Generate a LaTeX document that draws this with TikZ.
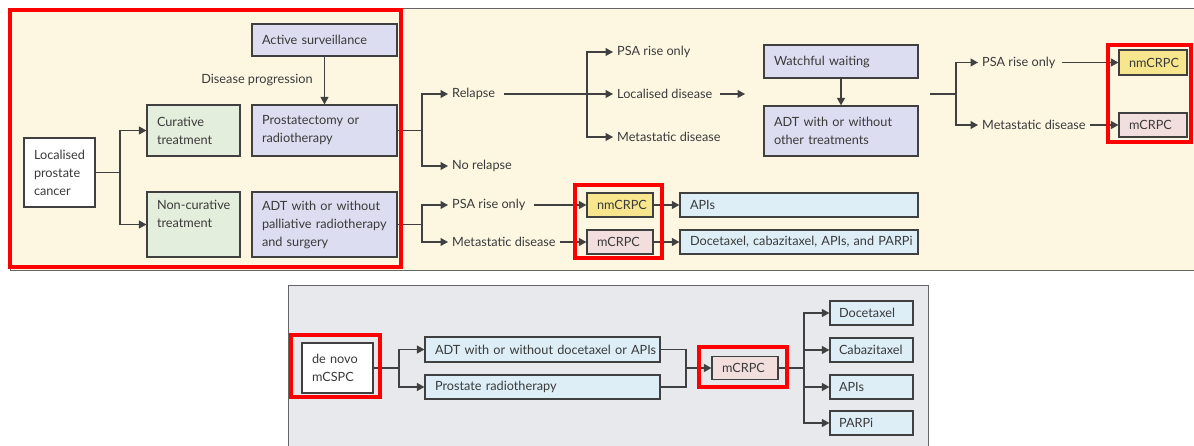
\documentclass[tikz,border=0pt]{standalone}
\usepackage{fontspec}
\setmainfont{Lato}
\usetikzlibrary{arrows.meta}
\definecolor{cream}{HTML}{FDF7E2}
\definecolor{panelgray}{HTML}{E7E9ED}
\definecolor{grn}{HTML}{E4EEDD}
\definecolor{lav}{HTML}{DCDDF0}
\definecolor{lblue}{HTML}{DDEEF7}
\definecolor{yel}{HTML}{F7E68E}
\definecolor{pnk}{HTML}{F3DEDE}
\definecolor{lc}{HTML}{404040}
\definecolor{tc}{HTML}{3A3A3A}
\tikzset{
  bx/.style={draw=lc, line width=1.2pt, inner xsep=0pt, inner ysep=0pt, align=left, text=tc,
    font=\fontsize{12.7}{18}\selectfont, anchor=center},
  lbl/.style={inner xsep=4pt, inner ysep=1pt, text=tc, font=\fontsize{12.7}{18}\selectfont, anchor=west},
  arr/.style={draw=lc, line width=1.2pt, -{Triangle[length=7.5pt,width=8pt]}},
  ln/.style={draw=lc, line width=1.2pt},
  hl/.style={draw=red, line width=4pt},
}
\begin{document}
\begin{tikzpicture}[x=1pt,y=-1pt]
\useasboundingbox (0,0) rectangle (1194,446);
% panels
\draw[fill=cream, draw=gray!80!black, line width=1pt] (10,9) rectangle (1200,271);
\draw[fill=panelgray, draw=gray!80!black, line width=1pt] (288,286) rectangle (928,452);

% top-left nodes
\node[bx, fill=white, minimum width=71pt, minimum height=69pt, text width=51pt] (loc) at (59.5,172.5) {Localised\\prostate\\cancer};
\node[bx, fill=grn, minimum width=93pt, minimum height=51pt, text width=73pt] (cur) at (193.5,130.5) {Curative\\treatment};
\node[bx, fill=grn, minimum width=93pt, minimum height=65pt, text width=73pt] (ncur) at (193.5,224.5) {\mbox{Non-curative}\\treatment\\\phantom{g}};
\node[bx, fill=lav, minimum width=145pt, minimum height=32pt, text width=125pt] (as) at (324.5,40) {Active surveillance};
\node[bx, fill=lav, minimum width=145pt, minimum height=51pt, text width=125pt] (pr) at (324.5,130.5) {Prostatectomy or\\radiotherapy};
\node[bx, fill=lav, minimum width=145pt, minimum height=65pt, text width=125pt] (adt1) at (324.5,224.5) {ADT with or without\\\mbox{palliative radiotherapy}\\and surgery};
\node[lbl, anchor=center] (dp) at (257,80) {Disease progression};

% middle labels
\node[lbl] (rel) at (448,94) {Relapse};
\node[lbl] (norel) at (448,166) {No relapse};
\node[lbl] (psa1) at (613,52) {PSA rise only};
\node[lbl] (locd) at (613,94) {Localised disease};
\node[lbl] (met1) at (613,137) {Metastatic disease};
\node[lbl] (psa3) at (448,205) {PSA rise only};
\node[lbl] (met3) at (448,242) {Metastatic disease};

\node[bx, fill=lav, minimum width=154pt, minimum height=33pt, text width=134pt] (ww) at (841,61.5) {Watchful waiting};
\node[bx, fill=lav, minimum width=154pt, minimum height=50pt, text width=134pt] (adt2) at (841,131) {ADT with or without\\other treatments};

\node[bx, fill=yel, minimum width=66pt, minimum height=24pt, text width=46pt] (nm2) at (620,205) {nmCRPC};
\node[bx, fill=pnk, minimum width=66pt, minimum height=24pt, text width=46pt] (m2) at (620,242) {mCRPC};
\node[bx, fill=lblue, minimum width=238pt, minimum height=24pt, text width=218pt] (apis) at (799,205) {APIs};
\node[bx, fill=lblue, minimum width=238pt, minimum height=24pt, text width=218pt] (doc) at (799,242) {\mbox{Docetaxel, cabazitaxel, APIs, and PARPi}};

% right
\node[lbl] (psa2) at (978,62.5) {PSA rise only};
\node[lbl] (met2) at (978,125) {Metastatic disease};
\node[bx, fill=yel, minimum width=68pt, minimum height=25pt, text width=48pt] (nm1) at (1153,62.5) {nmCRPC};
\node[bx, fill=pnk, minimum width=68pt, minimum height=24pt, text width=48pt] (m1) at (1153,125) {mCRPC};

% bottom panel
\node[bx, fill=white, minimum width=71pt, minimum height=50pt, text width=51pt] (dn) at (337.5,368) {de novo\\mCSPC};
\node[bx, fill=lblue, minimum width=235pt, minimum height=25pt, text width=215pt] (adt3) at (542.5,349.5) {\mbox{ADT with or without docetaxel or APIs}};
\node[bx, fill=lblue, minimum width=235pt, minimum height=24pt, text width=215pt] (prt) at (542.5,387) {Prostate radiotherapy};
\node[bx, fill=pnk, minimum width=66pt, minimum height=23pt, text width=46pt] (m3) at (745,368) {mCRPC};
\node[bx, fill=lblue, minimum width=83pt, minimum height=24pt, text width=65pt] (d1) at (871.5,313) {Docetaxel};
\node[bx, fill=lblue, minimum width=83pt, minimum height=24pt, text width=65pt] (c1) at (871.5,350) {Cabazitaxel};
\node[bx, fill=lblue, minimum width=83pt, minimum height=24pt, text width=65pt] (a1) at (871.5,387) {APIs};
\node[bx, fill=lblue, minimum width=83pt, minimum height=24pt, text width=65pt] (p1) at (871.5,423) {PARPi};

% coordinates
\coordinate (f1) at (120,172.5);
\coordinate (f2) at (422,130.5);
\coordinate (f3) at (587,94);
\coordinate (locend) at (745,94);
\coordinate (f4s) at (930,94);
\coordinate (f4) at (956,94);
\coordinate (f5) at (422,224.5);
\coordinate (f6) at (399,368);
\coordinate (f7) at (686,368);
\coordinate (f8) at (804,368);

% connectors
\draw[ln] (loc.east) -- (f1);
\draw[arr] (f1) |- (cur.west);
\draw[arr] (f1) |- (ncur.west);
\draw[arr] (as) -- (pr);
\draw[ln] (pr.east) -- (f2);
\draw[arr] (f2) |- (rel.west);
\draw[arr] (f2) |- (norel.west);
\draw[arr, shorten <=5pt] (rel.east) -- (locd.west);
\draw[arr] (f3) |- (psa1.west);
\draw[arr] (f3) |- (met1.west);
\draw[arr, shorten <=3pt] (locd.east) -- (locend);
\draw[arr] (ww) -- (adt2);
\draw[ln] (f4s) -- (f4);
\draw[arr] (f4) |- (psa2.west);
\draw[arr] (f4) |- (met2.west);
\draw[arr, shorten <=2pt] (psa2.east) -- (nm1.west);
\draw[arr] (met2.east) -- (m1.west);
\draw[ln] (adt1.east) -- (f5);
\draw[arr] (f5) |- (psa3.west);
\draw[arr] (f5) |- (met3.west);
\draw[arr, shorten <=4pt] (psa3.east) -- (nm2.west);
\draw[arr] (met3.east) -- (m2.west);
\draw[arr] (nm2.east) -- (apis.west);
\draw[arr] (m2.east) -- (doc.west);
\draw[ln] (dn.east) -- (f6);
\draw[arr] (f6) |- (adt3.west);
\draw[arr] (f6) |- (prt.west);
\draw[ln] (adt3.east) -| (f7);
\draw[ln] (prt.east) -| (f7);
\draw[arr] (f7) -- (m3.west);
\draw[ln] (m3.east) -- (f8);
\draw[arr] (f8) |- (d1.west);
\draw[arr] (f8) |- (c1.west);
\draw[arr] (f8) |- (a1.west);
\draw[arr] (f8) |- (p1.west);

% red highlights
\draw[hl] (10,10) rectangle (401,267);
\draw[hl] (575,185) rectangle (662,258);
\draw[hl] (1108,45) rectangle (1191,142);
\draw[hl] (291,335) rectangle (380,397);
\draw[hl] (699,347) rectangle (787,387);
\end{tikzpicture}
\end{document}
